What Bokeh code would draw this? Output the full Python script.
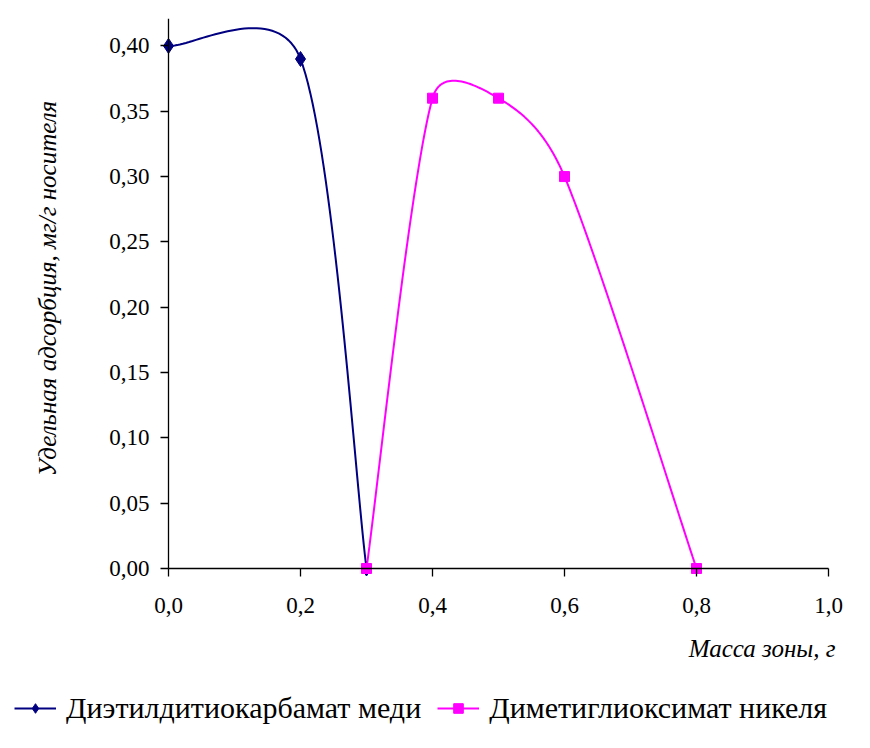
import numpy as np
from bokeh.plotting import figure
from bokeh.models import (FixedTicker, CustomJSTickFormatter, Legend, LegendItem,
                          Range1d, Label)
from bokeh.embed import file_html
from bokeh.resources import INLINE

# ---- data ----
cu_x = [0.0, 0.2, 0.3]
cu_y = [0.40, 0.39, 0.00]
ni_x = [0.3, 0.4, 0.5, 0.6, 0.8]
ni_y = [0.00, 0.36, 0.36, 0.30, 0.00]
x_ticks = [0.0, 0.2, 0.4, 0.6, 0.8, 1.0]
y_ticks = [0.00, 0.05, 0.10, 0.15, 0.20, 0.25, 0.30, 0.35, 0.40]
x_axis_max = 1.0
y_axis_max = 0.421
cu_name = "Диэтилдитиокарбамат меди"
ni_name = "Диметиглиоксимат никеля"
x_title = "Масса зоны, г"
y_title = "Удельная адсорбция, мг/г носителя"

FONT = "Liberation Serif"
NAVY = "#000080"
MAGENTA = "#FF00FF"

# ---- layout (pixels) ----
W, H = 854, 732
TOP = 18                 # frame top
AX_X0, AX_X1 = 168, 828  # where x = 0 and x = 1.0 fall
AX_Y0 = 568              # where y = 0 falls
SX = (AX_X1 - AX_X0) / x_axis_max          # px per x unit
SY = (AX_Y0 - TOP) / y_axis_max            # px per y unit

x_range = Range1d(-AX_X0 / SX, (W - AX_X0) / SX)
y_range = Range1d(-(H - AX_Y0) / SY, (AX_Y0 - TOP) / SY)


def smooth(xs, ys, n=40, k=0.5):
    """Excel-like smoothed line: cubic Bezier with Catmull-Rom tangents,
    control arms limited relative to the neighbouring segment (screen space)."""
    P = np.column_stack([np.asarray(xs) * SX, np.asarray(ys) * SY]).astype(float)
    m = len(P)

    def arm(vec, seg):
        L = np.hypot(*vec)
        lim = k * np.hypot(*seg)
        return vec * (lim / L) if L > lim and L > 0 else vec

    out = [P[0]]
    t = np.linspace(0, 1, n)[1:]
    for i in range(m - 1):
        p0 = P[i - 1] if i > 0 else P[i]
        p1 = P[i]
        p2 = P[i + 1]
        p3 = P[i + 2] if i + 2 < m else P[i + 1]
        seg = p2 - p1
        c1 = p1 + arm((p2 - p0) / 6.0, seg)
        c2 = p2 - arm((p3 - p1) / 6.0, seg)
        for tt in t:
            b = ((1 - tt) ** 3) * p1 + 3 * ((1 - tt) ** 2) * tt * c1 \
                + 3 * (1 - tt) * tt ** 2 * c2 + tt ** 3 * p2
            out.append(b)
    out = np.array(out)
    return out[:, 0] / SX, out[:, 1] / SY


p = figure(width=W, height=H, output_backend="svg", toolbar_location=None,
           x_range=x_range, y_range=y_range,
           min_border_left=0, min_border_right=0, min_border_top=TOP,
           min_border_bottom=0)
p.outline_line_color = None
p.background_fill_color = "white"
p.border_fill_color = "white"
p.xgrid.visible = False
p.ygrid.visible = False

cx, cy = smooth(cu_x, cu_y)
nx, ny = smooth(ni_x, ni_y)
l1 = p.line(cx, cy, line_color=NAVY, line_width=2)
s1 = p.scatter(cu_x, cu_y, marker="diamond", size=15, fill_color=NAVY, line_color=NAVY)
l2 = p.line(nx, ny, line_color=MAGENTA, line_width=2)
s2 = p.scatter(ni_x, ni_y, marker="square", size=10, fill_color=MAGENTA, line_color=MAGENTA)

for ax in (p.xaxis[0], p.yaxis[0]):
    ax.axis_line_color = "black"
    ax.axis_line_width = 1.3
    ax.major_tick_line_color = "black"
    ax.major_tick_line_width = 1.3
    ax.major_tick_in = 0
    ax.major_tick_out = 8
    ax.minor_tick_line_color = None
    ax.major_label_text_font = FONT
    ax.major_label_text_font_size = "23px"
    ax.major_label_text_color = "black"
    ax.fixed_location = 0

p.xaxis[0].ticker = FixedTicker(ticks=x_ticks)
p.xaxis[0].formatter = CustomJSTickFormatter(code="return tick.toFixed(1).replace('.', ',');")
p.xaxis[0].bounds = (0, x_axis_max)
p.xaxis[0].major_label_standoff = 21

p.yaxis[0].ticker = FixedTicker(ticks=y_ticks)
p.yaxis[0].formatter = CustomJSTickFormatter(code="return tick.toFixed(2).replace('.', ',');")
p.yaxis[0].bounds = (0, y_axis_max)
p.yaxis[0].major_label_standoff = 11

# axis titles (screen units, frame = whole figure)
p.add_layout(Label(x=835, y=H - 648, x_units="screen", y_units="screen",
                   text=x_title, text_align="right", text_baseline="middle",
                   text_font=FONT, text_font_style="italic",
                   text_font_size="25px", text_color="black"))
p.add_layout(Label(x=47, y=H - 288, x_units="screen", y_units="screen",
                   text=y_title, angle=np.pi / 2, text_align="center",
                   text_baseline="middle", text_font=FONT,
                   text_font_style="italic", text_font_size="25px",
                   text_color="black"))

legend = Legend(items=[LegendItem(label=cu_name, renderers=[l1, s1]),
                       LegendItem(label=ni_name, renderers=[l2, s2])],
                orientation="horizontal", location=(14, 7),
                label_text_font=FONT, label_text_font_size="30px",
                label_text_color="black",
                glyph_width=42, glyph_height=24, label_standoff=10, spacing=16,
                padding=0, margin=0, border_line_alpha=0,
                background_fill_alpha=0)
p.add_layout(legend, "center")

open("out.html", "w").write(file_html(p, INLINE))
